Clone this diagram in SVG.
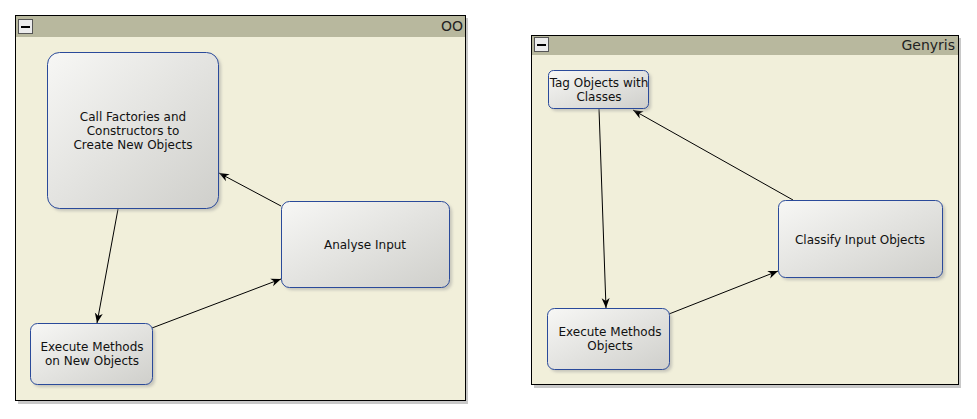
<svg xmlns="http://www.w3.org/2000/svg" width="977" height="419" viewBox="0 0 977 419">
<defs>
<linearGradient id="g" x1="0" y1="0" x2="1" y2="1">
<stop offset="0" stop-color="#f7f7f5"/>
<stop offset="1" stop-color="#cfcfcb"/>
</linearGradient>
<marker id="a" viewBox="0 0 10 10" refX="10" refY="5" markerWidth="10" markerHeight="10" markerUnits="userSpaceOnUse" orient="auto">
<path d="M0,1 L10,5 L0,9 L3,5 Z" fill="#000"/>
</marker>
<filter id="s" x="-10%" y="-10%" width="130%" height="130%">
<feGaussianBlur stdDeviation="1.5"/>
</filter>
</defs>
<style>
.fb{fill:#f1efda;stroke:#000;stroke-width:1}
.fh{fill:#b8b89e}
.sh{fill:#9a9a9a;opacity:0.5;filter:url(#s)}
.n{fill:url(#g);stroke:#2a4a9a;stroke-width:1}
.t{font-family:"DejaVu Sans",sans-serif;font-size:12px;fill:#111;text-anchor:middle}
.tt{font-family:"DejaVu Sans",sans-serif;font-size:14px;fill:#222;text-anchor:end}
.btn{fill:#ececec;stroke:#555;stroke-width:1}
.e{stroke:#000;stroke-width:1;fill:none;marker-end:url(#a)}
</style>
<rect width="977" height="419" fill="#fff"/>
<g id="frame-oo">
<rect x="18" y="18" width="450" height="386" fill="#c8c8c8"/>
<rect class="fb" x="15.5" y="15.5" width="450" height="385"/>
<rect class="fh" x="16" y="16" width="449" height="21"/>
<rect class="btn" x="18.5" y="19.5" width="14" height="14"/>
<rect x="21" y="26" width="9" height="2" fill="#000"/>
<text class="tt" x="463" y="31">OO</text>
</g>
<g id="frame-genyris">
<rect x="534" y="38" width="427" height="350" fill="#c8c8c8"/>
<rect class="fb" x="531.5" y="35.5" width="427" height="349"/>
<rect class="fh" x="532" y="36" width="426" height="19"/>
<rect class="btn" x="534.5" y="37.5" width="14" height="14"/>
<rect x="537" y="44" width="9" height="2" fill="#000"/>
<text class="tt" x="955" y="50">Genyris</text>
</g>
<g id="connectors">
<line class="e" x1="118" y1="209" x2="97" y2="323"/>
<line class="e" x1="152" y1="328" x2="281" y2="279"/>
<line class="e" x1="281" y1="206" x2="219" y2="173"/>
<line class="e" x1="599" y1="109" x2="606" y2="308"/>
<line class="e" x1="669" y1="314" x2="778" y2="271"/>
<line class="e" x1="793" y1="200" x2="633" y2="110"/>
</g>
<g id="n-call">
<rect class="sh" x="50" y="55" width="171" height="156" rx="12"/>
<rect class="n" x="47.5" y="52.5" width="171" height="156" rx="12"/>
<text class="t" x="133" y="121">Call Factories and</text>
<text class="t" x="133" y="135">Constructors to</text>
<text class="t" x="133" y="149">Create New Objects</text>
</g>
<g id="n-analyse">
<rect class="sh" x="284" y="204" width="168" height="86" rx="8"/>
<rect class="n" x="281.5" y="201.5" width="168" height="86" rx="8"/>
<text class="t" x="365" y="249">Analyse Input</text>
</g>
<g id="n-exec1">
<rect class="sh" x="33" y="326" width="122" height="61" rx="7"/>
<rect class="n" x="30.5" y="323.5" width="122" height="61" rx="7"/>
<text class="t" x="92" y="351">Execute Methods</text>
<text class="t" x="92" y="365">on New Objects</text>
</g>
<g id="n-tag">
<rect class="sh" x="551" y="73" width="100" height="38" rx="5"/>
<rect class="n" x="548.5" y="70.5" width="100" height="38" rx="5"/>
<text class="t" x="599" y="87">Tag Objects with</text>
<text class="t" x="599" y="101">Classes</text>
</g>
<g id="n-exec2">
<rect class="sh" x="550" y="311" width="122" height="61" rx="7"/>
<rect class="n" x="547.5" y="308.5" width="122" height="61" rx="7"/>
<text class="t" x="610" y="336">Execute Methods</text>
<text class="t" x="610" y="350">Objects</text>
</g>
<g id="n-classify">
<rect class="sh" x="781" y="203" width="164" height="77" rx="7"/>
<rect class="n" x="778.5" y="200.5" width="164" height="77" rx="7"/>
<text class="t" x="860" y="244">Classify Input Objects</text>
</g>
</svg>
